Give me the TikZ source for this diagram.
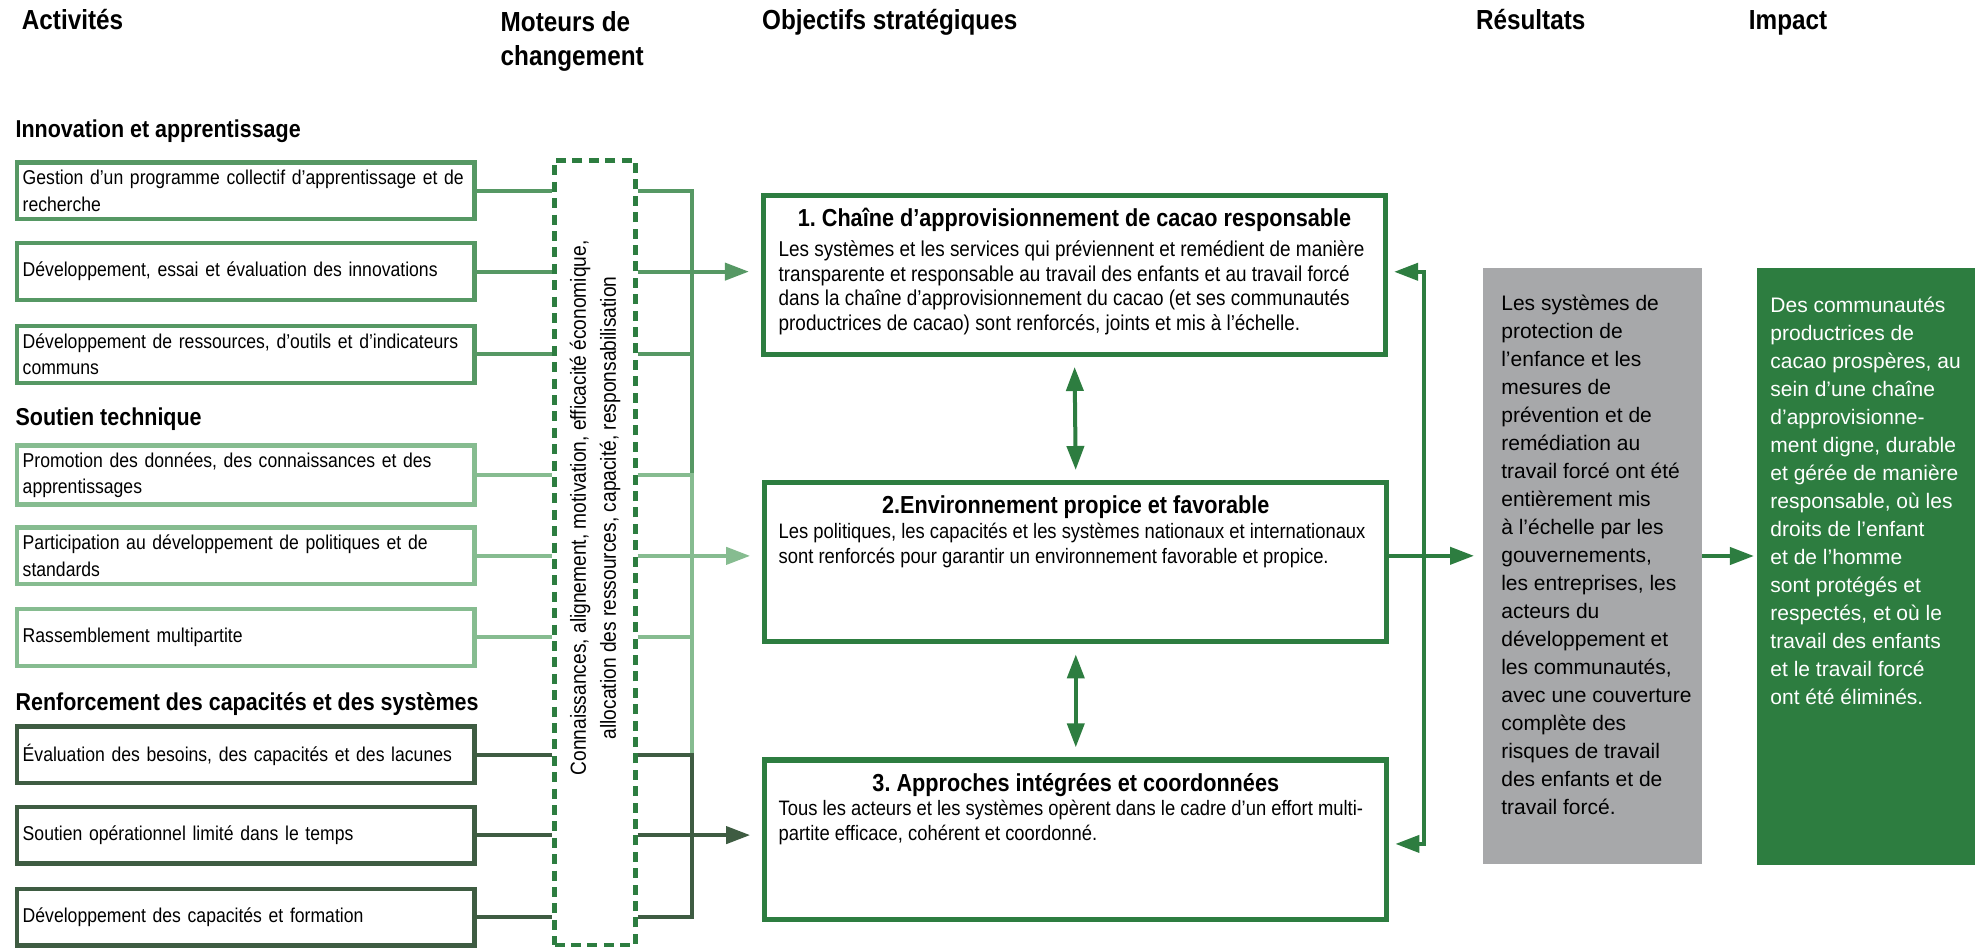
\documentclass[tikz,border=0pt]{standalone}
\usepackage{fontspec}
\setmainfont{Liberation Sans}
\newfontfamily\condfont[FakeStretch=0.88]{Liberation Sans}
\usetikzlibrary{arrows.meta}
\definecolor{cmed}{RGB}{86,152,100}
\definecolor{clight}{RGB}{134,188,144}
\definecolor{cdark}{RGB}{62,92,66}
\definecolor{cstrong}{RGB}{45,125,64}
\definecolor{cgray}{RGB}{167,168,170}
\frenchspacing
\tikzset{
  act/.style={draw=#1, line width=2.2pt, minimum height=28.4pt, text width=223pt,
    inner xsep=2.8pt, align=left, font=\condfont\fontsize{10}{13.3}\selectfont},
  hdr/.style={font=\condfont\bfseries\fontsize{13.8}{17}\selectfont, inner sep=0pt, align=left},
  sec/.style={font=\condfont\bfseries\fontsize{12.2}{17}\selectfont, inner sep=0pt},
  objbox/.style={draw=cstrong, line width=2.6pt, minimum width=311pt, minimum height=79.6pt},
  objtitle/.style={font=\condfont\bfseries\fontsize{12.3}{14}\selectfont, inner sep=0pt},
  objbody/.style={font=\condfont\fontsize{10.45}{12.4}\selectfont, inner sep=0pt, align=left},
  conn/.style={line width=2pt},
  arr/.style={-{Triangle[length=12pt,width=8.5pt]}},
  darr/.style={{Triangle[length=12pt,width=8.5pt]}-{Triangle[length=12pt,width=8.5pt]}},
  sidetext/.style={inner sep=0pt, align=left, font=\fontsize{10.5}{14}\selectfont}
}
\begin{document}
\begin{tikzpicture}[x=0.6317pt,y=-0.6317pt]
\fill[white] (0,0) rectangle (1568,750);
\useasboundingbox (0,0) rectangle (1568,750);

% headers
\node[hdr, anchor=base west] (h1) at (17,23) {Activités};
\node[hdr, anchor=north west] (h2) at (396,8.5) {Moteurs de\\changement};
\node[hdr, anchor=base west] (h3) at (603,23) {Objectifs stratégiques};
\node[hdr, anchor=base west] (h4) at (1168,23) {Résultats};
\node[hdr, anchor=base west] (h5) at (1384,23) {Impact};

% section headings
\node[sec, anchor=base west] (s1) at (12,108.5) {Innovation et apprentissage};
\node[sec, anchor=base west] (s2) at (12,336.5) {Soutien technique};
\node[sec, anchor=base west] (s3) at (12,562.5) {Renforcement des capacités et des systèmes};

% activity boxes
\node[act=cmed] (A1) at (194.5,151) {Gestion d’un programme collectif d’apprentissage et de\\recherche};
\node[act=cmed] (A2) at (194.5,215) {Développement, essai et évaluation des innovations};
\node[act=cmed] (A3) at (194.5,280.5) {Développement de ressources, d’outils et d’indicateurs\\communs};
\node[act=clight] (A4) at (194.5,376) {Promotion des données, des connaissances et des\\apprentissages};
\node[act=clight] (A5) at (194.5,440) {Participation au développement de politiques et de\\standards};
\node[act=clight] (A6) at (194.5,504.5) {Rassemblement multipartite};
\node[act=cdark] (A7) at (194.5,597.5) {Évaluation des besoins, des capacités et des lacunes};
\node[act=cdark] (A8) at (194.5,661) {Soutien opérationnel limité dans le temps};
\node[act=cdark] (A9) at (194.5,726) {Développement des capacités et formation};

% drivers box
\node[draw=cstrong, line width=2.2pt, dash pattern=on 5pt off 3.2pt, minimum width=40.4pt, minimum height=392.3pt] (mot) at (471,437.5) {};
\node[rotate=90, align=center, inner sep=0pt, font=\condfont\fontsize{10.9}{15}\selectfont] (mott) at (471,402)
  {Connaissances, alignement, motivation, efficacité économique,\\allocation des ressources, capacité, responsabilisation};

\coordinate (bus) at (548,0);

% objective boxes
\node[objbox] (O1) at (850.5,217.5) {};
\node[objbox] (O2) at (851.5,445) {};
\node[objbox] (O3) at (851.5,664.5) {};
\node[objtitle, anchor=base] (O1t) at (850.5,179.5) {1. Chaîne d’approvisionnement de cacao responsable};
\node[objbody, anchor=north west, font=\condfont\fontsize{10.75}{12.4}\selectfont] (O1b) at (616,190) {Les systèmes et les services qui préviennent et remédient de manière\\transparente et responsable au travail des enfants et au travail forcé\\dans la chaîne d’approvisionnement du cacao (et ses communautés\\productrices de cacao) sont renforcés, joints et mis à l’échelle.};
\node[objtitle, anchor=base] (O2t) at (851.5,406.5) {2.Environnement propice et favorable};
\node[objbody, anchor=north west] (O2b) at (616,414) {Les politiques, les capacités et les systèmes nationaux et internationaux\\sont renforcés pour garantir un environnement favorable et propice.};
\node[objtitle, anchor=base] (O3t) at (851.5,626.5) {3. Approches intégrées et coordonnées};
\node[objbody, anchor=north west] (O3b) at (616,633) {Tous les acteurs et les systèmes opèrent dans le cadre d’un effort multi-\\partite efficace, cohérent et coordonné.};

% results and impact
\node[fill=cgray, minimum width=109.3pt, minimum height=298.2pt] (res) at (1260.5,448) {};
\node[fill=cstrong, minimum width=108.7pt, minimum height=298.8pt] (imp) at (1477,448.5) {};
\node[sidetext, anchor=north west] (rest) at (1188,233) {Les systèmes de\\protection de\\l’enfance et les\\mesures de\\prévention et de\\remédiation au\\travail forcé ont été\\entièrement mis\\à l’échelle par les\\gouvernements,\\les entreprises, les\\acteurs du\\développement et\\les communautés,\\avec une couverture\\complète des\\risques de travail\\des enfants et de\\travail forcé.};
\node[sidetext, anchor=north west, text=white] (impt) at (1401,235) {Des communautés\\productrices de\\cacao prospères, au\\sein d’une chaîne\\d’approvisionne-\\ment digne, durable\\et gérée de manière\\responsable, où les\\droits de l’enfant\\et de l’homme\\sont protégés et\\respectés, et où le\\travail des enfants\\et le travail forcé\\ont été éliminés.};

% left connectors
\foreach \n/\c in {A1/cmed,A2/cmed,A3/cmed,A4/clight,A5/clight,A6/clight,A7/cdark,A8/cdark,A9/cdark}
  \draw[conn,\c] (\n.east) -- (\n.east -| mot.west);

% right connectors and bus
\draw[conn,cmed] (A1.east -| mot.east) -| (A4.east -| bus);
\draw[conn,cmed] (A2.east -| mot.east) -- (A2.east -| bus);
\draw[conn,cmed] (A3.east -| mot.east) -- (A3.east -| bus);
\draw[conn,clight] (A4.east -| mot.east) -- (A4.east -| bus) -- (A7.east -| bus);
\draw[conn,clight] (A5.east -| mot.east) -- (A5.east -| bus);
\draw[conn,clight] (A6.east -| mot.east) -- (A6.east -| bus);
\draw[conn,cdark] (A7.east -| mot.east) -| (A9.east -| bus) -- (A9.east -| mot.east);
\draw[conn,cdark] (A8.east -| mot.east) -- (A8.east -| bus);

% arrows to objectives
\draw[conn,cmed,arr,shorten >=6pt] (A2.east -| bus) -- (A2.east -| O1.west);
\draw[conn,clight,arr,shorten >=6pt] (A5.east -| bus) -- (A5.east -| O2.west);
\draw[conn,cdark,arr,shorten >=6pt] (A8.east -| bus) -- (A8.east -| O3.west);

% between objectives
\draw[conn,cstrong,darr,shorten <=5pt,shorten >=5pt] (O1.south) -- (O2.north);
\draw[conn,cstrong,darr,shorten <=5pt,shorten >=5pt] (O2.south) -- (O3.north);

% bracket on the right
\coordinate (brk) at (1127,0);
\draw[conn,cstrong,darr,shorten <=3pt,shorten >=3pt] ([yshift=1.5pt]O1.east) -- ([yshift=1.5pt]O1.east -| brk) -- ([yshift=-2.2pt]O3.east -| brk) -- ([yshift=-2.2pt]O3.east);
\draw[conn,cstrong,arr,shorten >=4.4pt] ([yshift=3.2pt]O2.east) -- ([yshift=3.2pt]O2.east -| res.west);
\draw[conn,cstrong,arr,shorten >=1.5pt] ([yshift=5pt]res.east) -- ([yshift=5pt]res.east -| imp.west);
\end{tikzpicture}
\end{document}
